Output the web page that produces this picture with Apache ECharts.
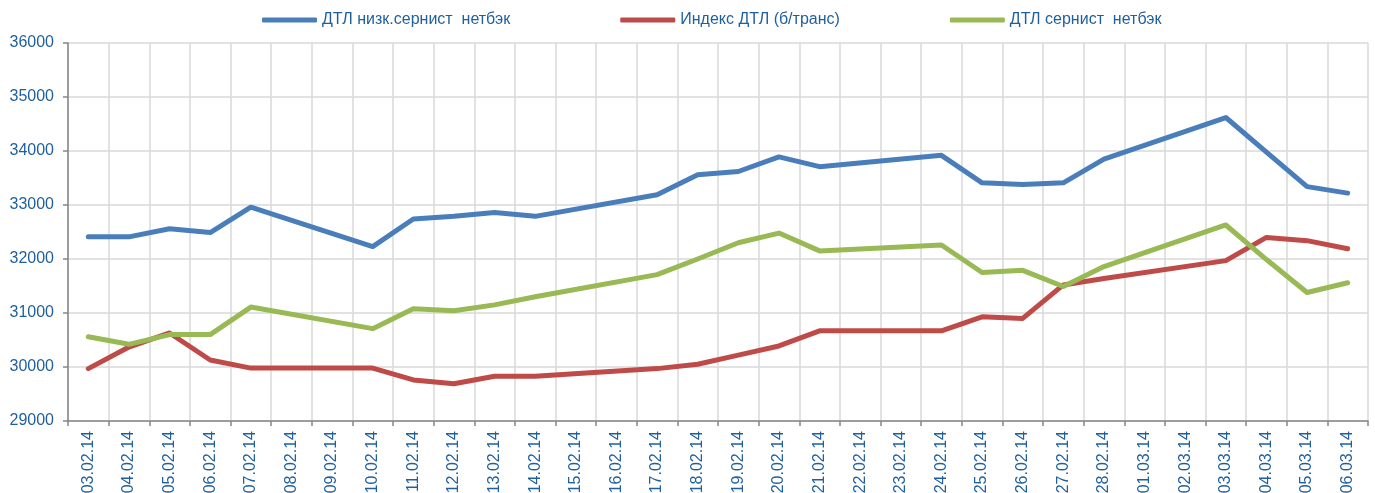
<!DOCTYPE html>
<html>
<head>
<meta charset="utf-8">
<script src="https://cdn.jsdelivr.net/npm/echarts@6/dist/echarts.min.js"></script>
<style>
  html, body { margin: 0; padding: 0; background: #fff; }
  #chart { width: 1375px; height: 493px; }
</style>
</head>
<body>
<div id="chart"></div>
<script>
const dates = [
  "03.02.14", "04.02.14", "05.02.14", "06.02.14", "07.02.14", "08.02.14", "09.02.14", "10.02.14",
  "11.02.14", "12.02.14", "13.02.14", "14.02.14", "15.02.14", "16.02.14", "17.02.14", "18.02.14",
  "19.02.14", "20.02.14", "21.02.14", "22.02.14", "23.02.14", "24.02.14", "25.02.14", "26.02.14",
  "27.02.14", "28.02.14", "01.03.14", "02.03.14", "03.03.14", "04.03.14", "05.03.14", "06.03.14"
];

// weekends have no quotes -> null, the line is joined across them
const lowSulphur = [
  32410, 32410, 32560, 32490, 32960, null, null, 32230,
  32740, 32790, 32860, 32790, null, null, 33190, 33560,
  33620, 33890, 33710, null, null, 33920, 33410, 33380,
  33410, 33850, null, null, 34620, 33980, 33340, 33220
];
const dtlIndex = [
  29970, 30370, 30630, 30130, 29980, null, null, 29980,
  29760, 29690, 29830, 29830, null, null, 29970, 30050,
  30220, 30390, 30670, null, null, 30670, 30930, 30900,
  31520, 31640, null, null, 31970, 32400, 32340, 32190
];
const sulphur = [
  30560, 30420, 30600, 30600, 31110, null, null, 30710,
  31080, 31040, 31150, 31300, null, null, 31710, 32000,
  32300, 32480, 32150, null, null, 32260, 31750, 31790,
  31490, 31860, null, null, 32630, 31990, 31380, 31560
];

const seriesNames = ["ДТЛ низк.сернист  нетбэк", "Индекс ДТЛ (б/транс)", "ДТЛ сернист  нетбэк"];
const colors = ["#4A7EBB", "#BE4B48", "#98B954"];
const textColor = "#1F5F9E";
const font = "'Liberation Sans', Arial, sans-serif";

const chart = echarts.init(document.getElementById("chart"), null, { renderer: "canvas" });

function line(name, data, color) {
  return {
    name: name,
    type: "line",
    data: data,
    connectNulls: true,
    showSymbol: false,
    symbol: "none",
    lineStyle: { width: 5, color: color, cap: "round", join: "round" },
    itemStyle: { color: color },
    animation: false,
  };
}

chart.setOption({
  animation: false,
  textStyle: { fontFamily: font },
  legend: {
    top: 12,
    left: 262,
    padding: 0,
    itemWidth: 55,
    itemHeight: 5,
    itemGap: 110,
    icon: "roundRect",
    textStyle: { color: textColor, fontSize: 16, fontFamily: font },
    data: seriesNames,
  },
  // labels at the bottom run off the edge, as in the source; keep the plot where it is
  grid: { left: 68, right: 7, top: 43, bottom: 72, containLabel: false, outerBoundsMode: "none" },
  xAxis: {
    type: "category",
    data: dates,
    boundaryGap: true,
    axisLine: { lineStyle: { color: "#868686", width: 1.5 } },
    axisTick: { show: true, length: 5, lineStyle: { color: "#868686", width: 1.5 } },
    axisLabel: {
      rotate: 90,
      interval: 0,
      margin: 10,
      color: textColor,
      fontSize: 16,
      fontFamily: font,
    },
    splitLine: { show: true, lineStyle: { color: "#D9D9D9", width: 1.5 } },
  },
  yAxis: {
    type: "value",
    min: 29000,
    max: 36000,
    interval: 1000,
    axisLine: { show: true, lineStyle: { color: "#868686", width: 1.5 } },
    axisTick: { show: true, length: 5, lineStyle: { color: "#868686", width: 1.5 } },
    axisLabel: {
      color: textColor,
      fontSize: 16,
      margin: 14,
      fontFamily: font,
      formatter: (v) => String(v),
    },
    splitLine: { show: true, lineStyle: { color: "#D9D9D9", width: 1.5 } },
  },
  series: [
    line(seriesNames[0], lowSulphur, colors[0]),
    line(seriesNames[1], dtlIndex, colors[1]),
    line(seriesNames[2], sulphur, colors[2]),
  ],
});
</script>
</body>
</html>
